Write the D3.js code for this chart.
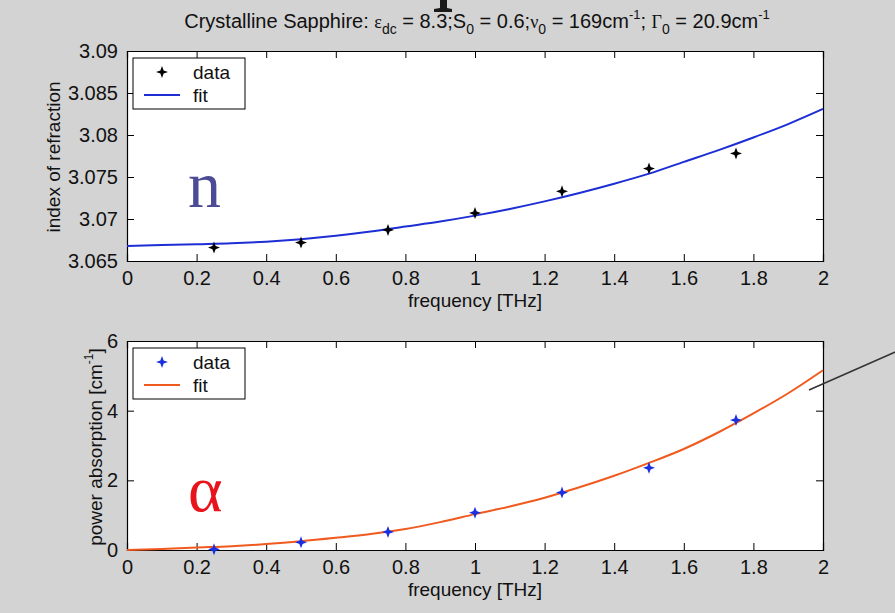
<!DOCTYPE html>
<html>
<head>
<meta charset="utf-8">
<script src="https://cdn.jsdelivr.net/npm/d3@7"></script>
<style>
    body { margin: 0; background: #d3d3d3; }
    svg { display: block; font-family: "Liberation Sans", Arial, sans-serif; }
</style>
</head>
<body>
<div id="chart"></div>
<script>
// Measured points (frequency in THz)
const freqData = [0.25, 0.5, 0.75, 1.0, 1.25, 1.5, 1.75];
const nData = [3.0666, 3.0672, 3.0687, 3.0707, 3.0733, 3.0760, 3.0778];
const alphaData = [0.02, 0.22, 0.52, 1.07, 1.65, 2.36, 3.73];

// Fit curves
const freqFit = [0, 0.1, 0.2, 0.3, 0.4, 0.5, 0.6, 0.7, 0.8, 0.9, 1.0, 1.1, 1.2, 1.3, 1.4, 1.5, 1.6, 1.7, 1.8, 1.9, 2.0];
const nFit = [3.0668, 3.0669, 3.0670, 3.0671, 3.0673, 3.0676, 3.0680, 3.0685, 3.0691, 3.0697, 3.0704,
              3.0712, 3.0721, 3.0731, 3.0742, 3.0754, 3.0768, 3.0782, 3.0797, 3.0813, 3.0831];
const alphaFit = [0.00, 0.03, 0.07, 0.11, 0.17, 0.25, 0.35, 0.46, 0.60, 0.80, 1.03,
                  1.25, 1.50, 1.80, 2.13, 2.50, 2.90, 3.38, 3.92, 4.50, 5.16];

// Tick values and labels
const xTicks = [0, 0.2, 0.4, 0.6, 0.8, 1.0, 1.2, 1.4, 1.6, 1.8, 2.0];
const xTickLabels = ["0", "0.2", "0.4", "0.6", "0.8", "1", "1.2", "1.4", "1.6", "1.8", "2"];
const nTicks = [3.065, 3.07, 3.075, 3.08, 3.085, 3.09];
const nTickLabels = ["3.065", "3.07", "3.075", "3.08", "3.085", "3.09"];
const alphaTicks = [0, 2, 4, 6];
const alphaTickLabels = ["0", "2", "4", "6"];

const width = 895;
const height = 613;
const marginLeft = 127;
const plotRight = 823;
const tickFont = 20;
const labelFont = 19;

const svg = d3.create("svg")
    .attr("width", width)
    .attr("height", height);
document.getElementById("chart").append(svg.node());

svg.append("rect").attr("width", width).attr("height", height).attr("fill", "#d3d3d3");

// 4-point star marker, like the matlab '+' with a dot
const star4 = {
    draw(ctx, size) {
        const r = Math.sqrt(size);
        const ri = r * 0.38;
        for (let i = 0; i < 8; i++) {
            const a = i * Math.PI / 4 - Math.PI / 2;
            const rr = i % 2 === 0 ? r : ri;
            const px = rr * Math.cos(a), py = rr * Math.sin(a);
            if (i === 0) ctx.moveTo(px, py); else ctx.lineTo(px, py);
        }
        ctx.closePath();
    }
};

const x = d3.scaleLinear().domain([0, 2]).range([marginLeft, plotRight]);

function drawPanel(opts) {
    const y = d3.scaleLinear().domain(opts.domain).range([opts.bottom, opts.top]);
    const g = svg.append("g");

    g.append("rect")
        .attr("x", marginLeft).attr("y", opts.top)
        .attr("width", plotRight - marginLeft).attr("height", opts.bottom - opts.top)
        .attr("fill", "white");

    // axes, ticks pointing inward
    const gx = g.append("g")
        .attr("transform", `translate(0,${opts.bottom})`)
        .call(d3.axisBottom(x).tickValues(xTicks).tickFormat((d, i) => xTickLabels[i])
            .tickSize(-7).tickPadding(8));
    g.append("g")
        .attr("transform", `translate(0,${opts.top})`)
        .call(d3.axisTop(x).tickValues(xTicks).tickFormat("").tickSize(-7));
    g.append("g")
        .attr("transform", `translate(${marginLeft},0)`)
        .call(d3.axisLeft(y).tickValues(opts.ticks).tickFormat((d, i) => opts.tickLabels[i])
            .tickSize(-7).tickPadding(9));
    g.append("g")
        .attr("transform", `translate(${plotRight},0)`)
        .call(d3.axisRight(y).tickValues(opts.ticks).tickFormat("").tickSize(-7));

    g.selectAll(".domain").attr("stroke", "#000").attr("stroke-width", 1.2);
    g.selectAll(".tick line").attr("stroke", "#000");
    g.selectAll(".tick text").attr("font-size", tickFont).attr("fill", "#111")
        .attr("font-family", "Liberation Sans, Arial, sans-serif");
    gx.selectAll(".tick text").attr("dy", "0.8em");

    // greek symbol
    g.append("text")
        .attr("x", opts.symX).attr("y", opts.symY)
        .attr("font-family", "Liberation Serif, Times New Roman, serif")
        .attr("font-size", 66)
        .attr("fill", opts.symColor)
        .text(opts.symbol);

    // fit line
    const line = d3.line()
        .x((d, i) => x(freqFit[i]))
        .y(d => y(d))
        .curve(d3.curveMonotoneX);
    g.append("path")
        .datum(opts.fit)
        .attr("fill", "none")
        .attr("stroke", opts.fitColor)
        .attr("stroke-width", 2)
        .attr("d", line);

    // data markers
    g.selectAll(".pt")
        .data(opts.data)
        .join("path")
        .attr("class", "pt")
        .attr("transform", (d, i) => `translate(${x(freqData[i])},${y(d)})`)
        .attr("d", d3.symbol().type(star4).size(36))
        .attr("fill", opts.markColor);

    // x label
    g.append("text")
        .attr("x", (marginLeft + plotRight) / 2)
        .attr("y", opts.bottom + 46)
        .attr("text-anchor", "middle")
        .attr("font-size", labelFont)
        .attr("fill", "#111")
        .text("frequency [THz]");

    // legend
    const lx = 133, ly = opts.top + 7;
    const lg = g.append("g").attr("transform", `translate(${lx},${ly})`);
    lg.append("rect")
        .attr("width", 112).attr("height", 51)
        .attr("fill", "white").attr("stroke", "#000").attr("stroke-width", 1);
    lg.append("path")
        .attr("transform", "translate(29,14)")
        .attr("d", d3.symbol().type(star4).size(36))
        .attr("fill", opts.markColor);
    lg.append("text").attr("x", 60).attr("y", 21)
        .attr("font-size", labelFont).attr("fill", "#111").text("data");
    lg.append("line")
        .attr("x1", 11).attr("x2", 47).attr("y1", 37).attr("y2", 37)
        .attr("stroke", opts.fitColor).attr("stroke-width", 2);
    lg.append("text").attr("x", 60).attr("y", 44)
        .attr("font-size", labelFont).attr("fill", "#111").text("fit");

    return g;
}

drawPanel({
    top: 51, bottom: 261,
    domain: [3.065, 3.09],
    ticks: nTicks, tickLabels: nTickLabels,
    fit: nFit, data: nData,
    fitColor: "#1c2ed4", markColor: "#000",
    symbol: "n", symColor: "#4b4b96", symX: 188, symY: 207
});

drawPanel({
    top: 341, bottom: 550,
    domain: [0, 6],
    ticks: alphaTicks, tickLabels: alphaTickLabels,
    fit: alphaFit, data: alphaData,
    fitColor: "#f05a1e", markColor: "#1a2fe0",
    symbol: "α", symColor: "#e8141b", symX: 188, symY: 511
});

// y labels
svg.append("text")
    .attr("transform", "translate(60,157) rotate(-90)")
    .attr("text-anchor", "middle")
    .attr("font-size", labelFont).attr("fill", "#111")
    .text("index of refraction");

const yl2 = svg.append("text")
    .attr("transform", "translate(102,447) rotate(-90)")
    .attr("text-anchor", "middle")
    .attr("font-size", labelFont).attr("fill", "#111");
yl2.append("tspan").text("power absorption [cm");
yl2.append("tspan").attr("font-size", 12).attr("dy", -9).text("-1");
yl2.append("tspan").attr("dy", 9).text("]");

// title
const title = svg.append("text")
    .attr("x", 477).attr("y", 28)
    .attr("text-anchor", "middle")
    .attr("font-size", 20).attr("fill", "#111");
function part(t, kind) {
    const s = title.append("tspan").text(t);
    if (kind === "sub") s.attr("font-size", 14).attr("dy", 6);
    if (kind === "sup") s.attr("font-size", 13).attr("dy", -9);
    if (kind === "greek") s.attr("font-family", "Liberation Serif, serif").attr("font-size", 18);
    return s;
}
part("Crystalline Sapphire: ");
part("ε", "greek");
part("dc", "sub");
part(" = 8.3;S").attr("dy", -6);
part("0", "sub");
part(" = 0.6;").attr("dy", -6);
part("ν", "greek");
part("0", "sub");
part(" = 169cm").attr("dy", -6);
part("-1", "sup");
part("; ").attr("dy", 9);
part("Γ", "greek");
part("0", "sub");
part(" = 20.9cm").attr("dy", -6);
part("-1", "sup");

// clipped glyph stem left from the slide above (only its foot shows)
svg.append("path")
    .attr("d", "M440,0 L447,0 L447,8 L452,9 L452,12 L434,12 L434,9 L440,8 Z")
    .attr("fill", "#1a1a1a");

// pointer line leaving the figure
svg.append("line")
    .attr("x1", 809).attr("y1", 390)
    .attr("x2", 900).attr("y2", 350)
    .attr("stroke", "#333").attr("stroke-width", 1.6);
</script>
</body>
</html>
